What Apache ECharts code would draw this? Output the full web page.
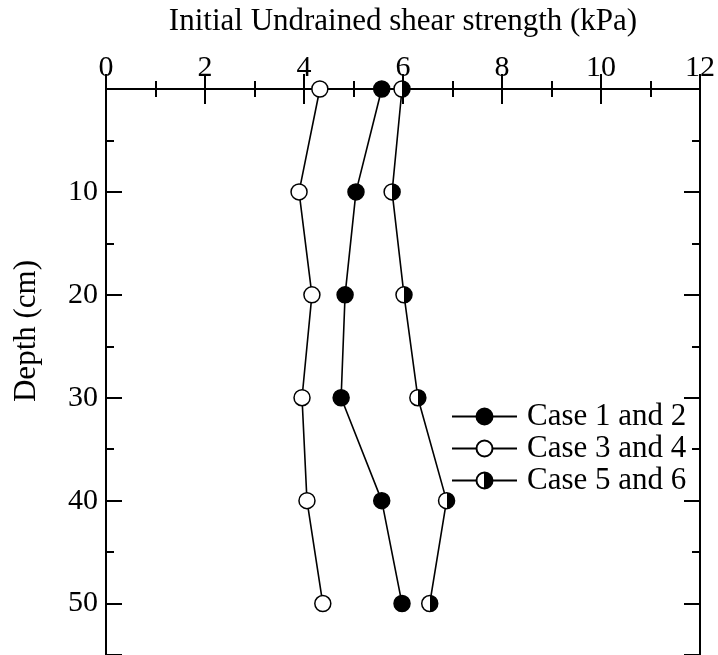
<!DOCTYPE html>
<html>
<head>
<meta charset="utf-8">
<script src="https://cdn.jsdelivr.net/npm/echarts@6/dist/echarts.min.js"></script>
<style>html,body{margin:0;padding:0;background:#fff;}#c{width:718px;height:655px;}</style>
</head>
<body>
<div id="c"></div>
<script>
// Data
const depths = [0, 10, 20, 30, 40, 50];
const case12 = [5.57, 5.05, 4.83, 4.75, 5.57, 5.98];
const case34 = [4.32, 3.90, 4.16, 3.96, 4.06, 4.38];
const case56 = [5.98, 5.78, 6.02, 6.30, 6.88, 6.54];
const seriesNames = ['Case 1 and 2', 'Case 3 and 4', 'Case 5 and 6'];
const xTickLabels = ['0', '2', '4', '6', '8', '10', '12'];
const yTickLabels = ['10', '20', '30', '40', '50'];
const xTitle = 'Initial Undrained shear strength (kPa)';
const yTitle = 'Depth (cm)';

const FONT = 'Liberation Serif';
const chart = echarts.init(document.getElementById('c'), null, {renderer: 'canvas'});

function pairs(vals) { return vals.map((v, i) => [v, depths[i]]); }

const halfFill = new echarts.graphic.LinearGradient(0, 0, 1, 0, [
  {offset: 0, color: '#fff'}, {offset: 0.5, color: '#fff'},
  {offset: 0.5, color: '#000'}, {offset: 1, color: '#000'}
]);

const lineW = 2;
function xAx(pos, labels) {
  return {
    type: 'value', position: pos, min: 0, max: 12, interval: 2,
    axisLine: {show: true, lineStyle: {color: '#000', width: lineW}},
    axisTick: {show: true, inside: true, length: 15, lineStyle: {color: '#000', width: lineW}},
    minorTick: {show: true, splitNumber: 2, length: 8, lineStyle: {color: '#000', width: lineW}},
    splitLine: {show: false},
    axisLabel: {show: labels, color: '#000', fontFamily: FONT, fontSize: 30, margin: 6,
      formatter: v => xTickLabels.includes(String(v)) ? String(v) : ''},
    name: labels ? xTitle : '', nameLocation: 'middle', nameGap: 52,
    nameTextStyle: {color: '#000', fontFamily: FONT, fontSize: 31}
  };
}
function yAx(pos, interval, len, labels, showLine) {
  return {
    type: 'value', position: pos, inverse: true, min: 0, max: 55, interval: interval,
    axisLine: {show: showLine, lineStyle: {color: '#000', width: lineW}},
    axisTick: {show: true, inside: true, length: len, lineStyle: {color: '#000', width: lineW}},
    splitLine: {show: false},
    axisLabel: {show: labels, color: '#000', fontFamily: FONT, fontSize: 30, margin: 8,
      formatter: v => yTickLabels.includes(String(v)) ? String(v) : ''}
  };
}

const common = {
  type: 'line', symbol: 'circle', symbolSize: 16, clip: false,
  lineStyle: {color: '#000', width: 1.6},
  xAxisIndex: 0, yAxisIndex: 0, z: 5
};

chart.setOption({
  animation: false,
  backgroundColor: '#fff',
  grid: {left: 106, top: 89, width: 596, height: 566, containLabel: false},
  xAxis: [xAx('top', true), xAx('bottom', false)],
  yAxis: [
    yAx('left', 10, 16, true, true),
    yAx('left', 5, 8, false, false),
    yAx('right', 10, 16, false, true),
    yAx('right', 5, 8, false, false)
  ],
  legend: {
    orient: 'vertical', left: 446, top: 396, itemWidth: 65, itemHeight: 20, itemGap: 1,
    textStyle: {color: '#000', fontFamily: FONT, fontSize: 31, lineHeight: 30, padding: [0, 0, 0, 5]},
    data: seriesNames
  },
  graphic: [{
    type: 'text', x: 27, y: 331, rotation: Math.PI / 2,
    style: {text: yTitle, fill: '#000', font: '31px "Liberation Serif"', align: 'center', verticalAlign: 'middle'}
  }],
  series: [
    Object.assign({}, common, {name: seriesNames[0], data: pairs(case12),
      itemStyle: {color: '#000', borderColor: '#000', borderWidth: 1.5}}),
    Object.assign({}, common, {name: seriesNames[1], data: pairs(case34),
      itemStyle: {color: '#fff', borderColor: '#000', borderWidth: 1.5}}),
    Object.assign({}, common, {name: seriesNames[2], data: pairs(case56),
      itemStyle: {color: halfFill, borderColor: '#000', borderWidth: 1.5}})
  ]
});
</script>
</body>
</html>
